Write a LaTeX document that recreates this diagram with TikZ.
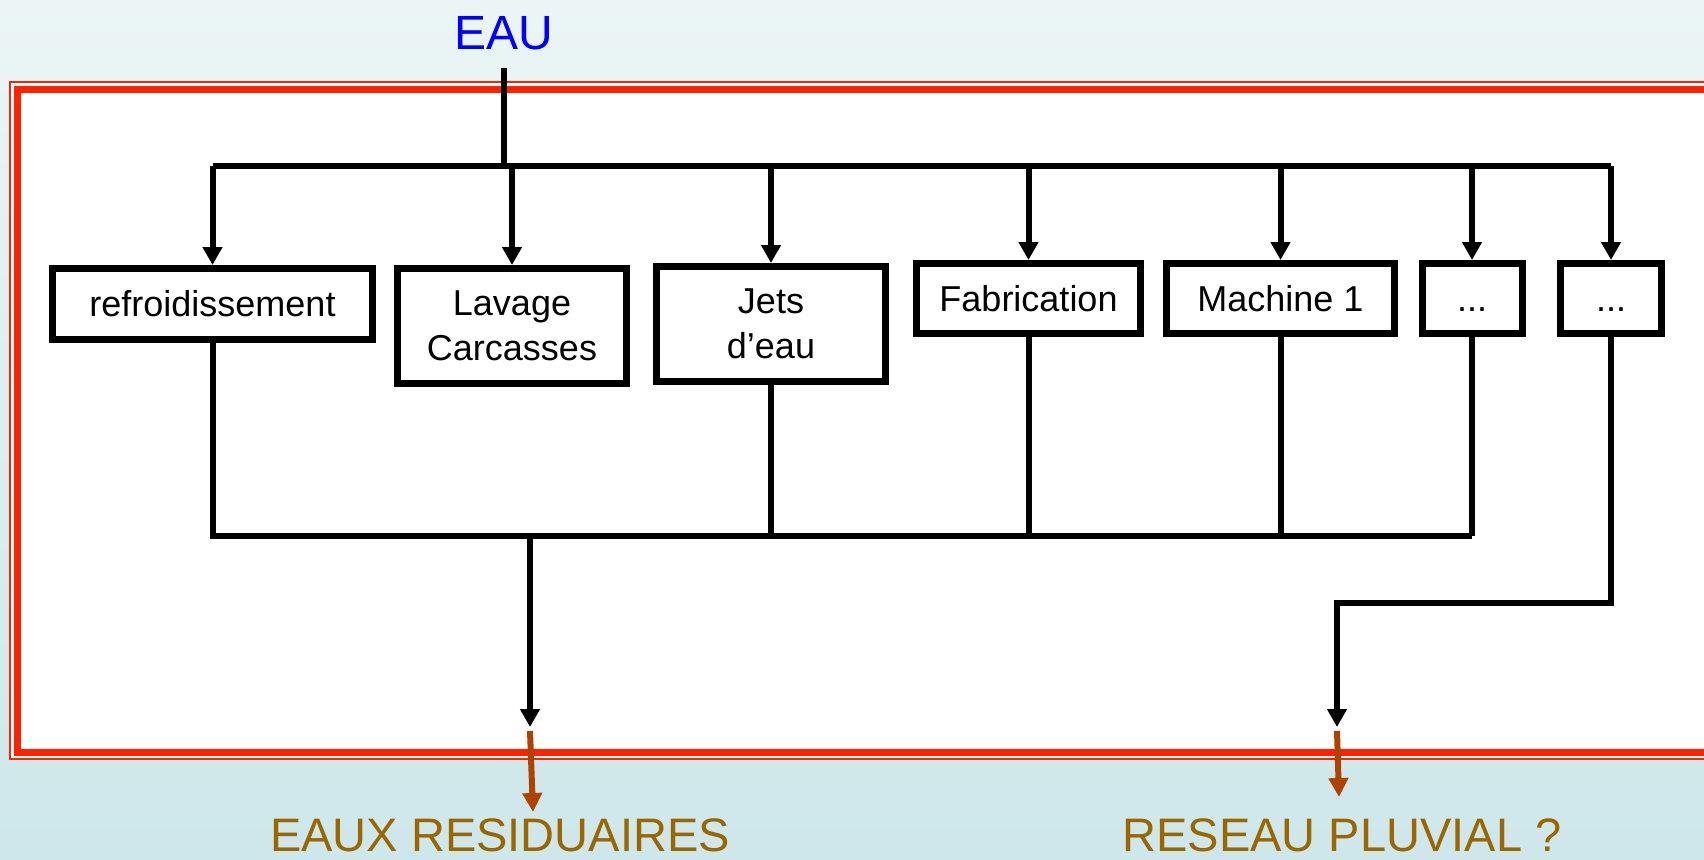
\documentclass[tikz,border=0pt]{standalone}
\usepackage{fontspec}
\setmainfont{Liberation Sans}
\usetikzlibrary{arrows.meta}
\definecolor{bgtop}{HTML}{EBF5F6}
\definecolor{bgbot}{HTML}{CEE7EA}
\definecolor{framered}{HTML}{FF2200}
\definecolor{outbrown}{HTML}{996600}
\definecolor{arrbrown}{HTML}{AE4200}
\tikzset{
  pbox/.style={draw=black, line width=7pt, fill=white, inner sep=0pt, align=center,
    font=\fontsize{36}{45}\selectfont},
  wire/.style={draw=black, line width=6pt},
  arr/.style={wire, -{Triangle[width=19pt,length=18pt]}},
  barr/.style={draw=arrbrown, line width=6pt, -{Triangle[width=19pt,length=19pt]}},
  outtxt/.style={text=outbrown, inner sep=0pt, anchor=base, text depth=0pt,
    font=\fontsize{47}{50}\selectfont},
}
\begin{document}
\begin{tikzpicture}[x=1pt,y=-1pt]
\clip (0,0) rectangle (1704,859);
\shade[top color=bgtop, bottom color=bgbot] (0,0) rectangle (1704,859);
% frame
\fill[white] (10,82) rectangle (1740,759);
\draw[framered, line width=2pt] (10,82) rectangle (1740,759);
\draw[framered, line width=7pt] (17.5,89.5) rectangle (1740,752);

% title
\node[text=blue, inner sep=0pt, anchor=base, font=\fontsize{48}{50}\selectfont] (eau) at (504,50) {EAU};
\coordinate (src) at (504,68);
\coordinate (t) at (504,166);

% boxes
\node[pbox, minimum width=320pt, minimum height=71pt] (r) at (212.5,304) {refroidissement};
\node[pbox, minimum width=229pt, minimum height=115pt] (l) at (512,326) {Lavage\\Carcasses};
\node[pbox, minimum width=229pt, minimum height=115pt] (j) at (771,324) {Jets\\d’eau};
\node[pbox, minimum width=224pt, minimum height=70pt] (f) at (1028.5,298.5) {Fabrication};
\node[pbox, minimum width=228pt, minimum height=70pt] (m) at (1280.5,298.5) {Machine 1};
\node[pbox, minimum width=100pt, minimum height=70pt] (d1) at (1472,298.5) {\vphantom{Fb}...};
\node[pbox, minimum width=101pt, minimum height=70pt] (d2) at (1611,298.5) {\vphantom{Fb}...};

% supply
\draw[wire] (src) -- (t);
\draw[wire] (r.north |- t) -- (d2.north |- t);
\foreach \b in {r,l,j,f,m,d1,d2}{
  \draw[arr] (\b.north |- t) -- (\b.north);
}

% collector
\coordinate (c) at (530,536);
\coordinate (a1) at (530,727);
\draw[wire] (r.south) -- (r.south |- c) -- (j.south |- c) -- (j.south);
\draw[wire] (c) -- (d1.south |- c);
\foreach \b in {f,m,d1}{
  \draw[wire] (\b.south) -- (\b.south |- c);
}
\draw[arr] (c) -- (a1);

% rain network
\coordinate (k) at (1337,603);
\coordinate (a2) at (1337,727);
\draw[arr] (d2.south) -- (d2.south |- k) -- (k) -- (a2);

% outputs
\coordinate (b1s) at (530,731);
\coordinate (b1e) at (533,812);
\coordinate (b2s) at (1337,731);
\coordinate (b2e) at (1339,797);
\draw[barr] (b1s) -- (b1e);
\draw[barr] (b2s) -- (b2e);
\node[outtxt] (er) at (500,851) {EAUX RESIDUAIRES};
\node[outtxt] (rp) at (1342,851) {RESEAU PLUVIAL ?};
\end{tikzpicture}
\end{document}
